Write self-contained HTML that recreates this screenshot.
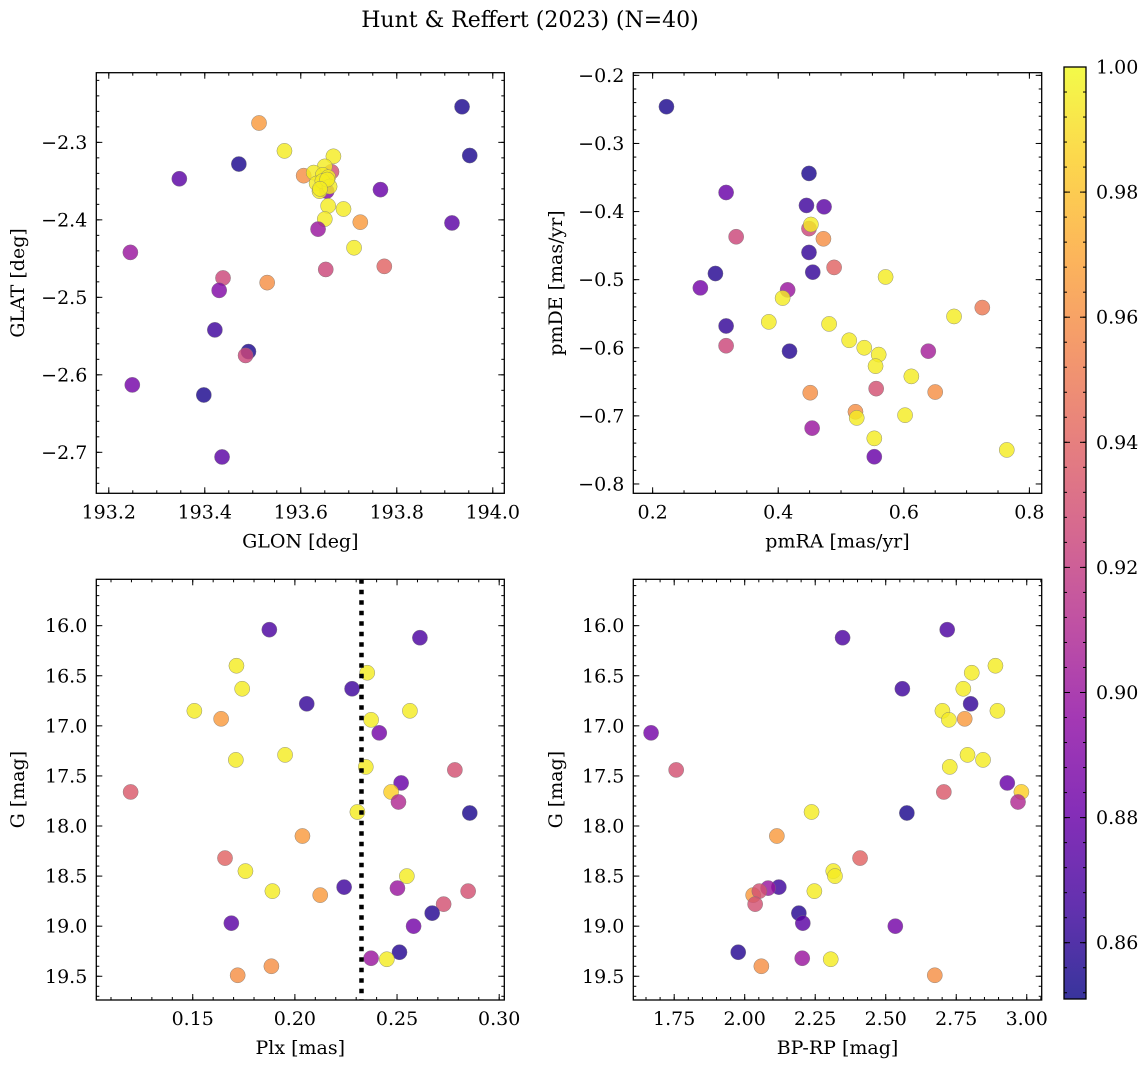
<!DOCTYPE html>
<html><head><meta charset="utf-8"><style>
html,body{margin:0;padding:0;background:#fff;}
svg{display:block;font-family:"DejaVu Serif","Liberation Serif",serif;}
</style></head><body>
<svg id="fig" width="1148" height="1067" xmlns="http://www.w3.org/2000/svg">
<text x="530" y="27" font-size="22" text-anchor="middle">Hunt &amp; Reffert (2023) (N=40)</text>
</svg>
<script>
// ---- data ----
const glon=[193.936,193.513,193.566,193.668,193.471,193.952,193.347,193.606,193.664,193.650,193.627,193.646,193.657,193.633,193.654,193.639,193.766,193.657,193.689,193.650,193.724,193.915,193.636,193.711,193.245,193.652,193.774,193.438,193.530,193.430,193.421,193.491,193.485,193.249,193.398,193.436,193.645,193.660,193.655,193.640];
const glat=[-2.254,-2.275,-2.311,-2.318,-2.328,-2.317,-2.347,-2.343,-2.338,-2.331,-2.339,-2.342,-2.345,-2.353,-2.363,-2.363,-2.361,-2.382,-2.386,-2.399,-2.403,-2.404,-2.412,-2.436,-2.442,-2.464,-2.460,-2.475,-2.481,-2.491,-2.542,-2.570,-2.575,-2.613,-2.626,-2.706,-2.350,-2.357,-2.348,-2.360];
const probSky=[0.855,0.965,0.995,0.995,0.855,0.855,0.875,0.96,0.93,0.995,0.995,0.995,0.995,0.995,0.89,0.995,0.88,0.995,0.995,0.995,0.965,0.875,0.9,0.995,0.9,0.925,0.94,0.925,0.96,0.89,0.865,0.855,0.925,0.885,0.855,0.875,0.995,0.995,0.995,0.995];
const pmra=[0.222,0.449,0.317,0.445,0.473,0.449,0.452,0.333,0.472,0.449,0.489,0.300,0.455,0.571,0.276,0.415,0.407,0.725,0.680,0.385,0.481,0.317,0.513,0.537,0.317,0.418,0.639,0.560,0.555,0.612,0.556,0.451,0.650,0.523,0.525,0.602,0.454,0.553,0.764,0.553];
const pmde=[-0.246,-0.344,-0.372,-0.391,-0.393,-0.425,-0.419,-0.437,-0.440,-0.460,-0.482,-0.491,-0.489,-0.496,-0.512,-0.515,-0.527,-0.541,-0.554,-0.562,-0.565,-0.568,-0.589,-0.600,-0.597,-0.605,-0.605,-0.610,-0.627,-0.642,-0.660,-0.666,-0.665,-0.694,-0.703,-0.699,-0.718,-0.733,-0.750,-0.760];
const probPm=[0.855,0.855,0.88,0.865,0.875,0.925,0.995,0.925,0.96,0.862,0.94,0.858,0.862,0.995,0.885,0.9,0.995,0.95,0.995,0.995,0.995,0.862,0.995,0.995,0.925,0.858,0.905,0.995,0.995,0.995,0.93,0.96,0.96,0.96,0.995,0.995,0.9,0.995,0.995,0.88];
const plx=[0.1875,0.2612,0.1714,0.2354,0.1742,0.2280,0.2058,0.1508,0.1639,0.2563,0.2373,0.2413,0.1711,0.1952,0.2347,0.2783,0.1196,0.2520,0.2471,0.2507,0.2306,0.2856,0.2037,0.1658,0.1758,0.2548,0.2241,0.2502,0.1890,0.2124,0.2848,0.2728,0.2672,0.1689,0.2581,0.2512,0.2373,0.2450,0.1885,0.1720];
const bprp=[2.718,2.347,2.889,2.805,2.775,2.559,2.801,2.701,2.780,2.896,2.724,1.668,2.845,2.790,2.727,1.757,2.706,2.931,2.981,2.969,2.237,2.575,2.114,2.409,2.314,2.320,2.121,2.083,2.247,2.030,2.052,2.037,2.192,2.206,2.534,1.977,2.204,2.305,2.059,2.674];
const gmag=[16.04,16.12,16.40,16.47,16.63,16.63,16.78,16.85,16.93,16.85,16.94,17.07,17.34,17.29,17.41,17.44,17.66,17.57,17.66,17.76,17.86,17.87,18.10,18.32,18.45,18.50,18.61,18.62,18.65,18.69,18.65,18.78,18.87,18.97,19.00,19.26,19.32,19.33,19.40,19.49];
const probPhot=[0.87,0.87,0.995,0.995,0.995,0.865,0.862,0.995,0.965,0.995,0.995,0.885,0.995,0.995,0.995,0.93,0.935,0.88,0.985,0.91,0.995,0.855,0.965,0.94,0.995,0.995,0.865,0.9,0.995,0.965,0.93,0.93,0.858,0.875,0.885,0.858,0.9,0.995,0.96,0.96];
const cbTicks=[0.86,0.88,0.90,0.92,0.94,0.96,0.98,1.00];
const plxCut=[0.2326];
const NS="http://www.w3.org/2000/svg";
const svg=document.getElementById('fig');
function mk(t,a,p){const e=document.createElementNS(NS,t);for(const k in a)e.setAttribute(k,a[k]);(p||svg).appendChild(e);return e;}
const stops=[[13,8,135],[65,4,157],[106,0,168],[143,13,164],[177,42,144],[204,71,120],[225,100,98],[242,132,75],[252,166,54],[252,206,37],[240,249,33]];
const PMIN=0.851,PMAX=1.0;
function plasma(p){let t=(p-PMIN)/(PMAX-PMIN);t=Math.max(0,Math.min(1,t))*10;const i=Math.min(9,Math.floor(t)),f=t-i;const a=stops[i],b=stops[i+1];return 'rgb('+a.map((v,k)=>Math.round(v+(b[k]-v)*f)).join(',')+')';}
function fmt(v,d){return v<0?'\u2212'+Math.abs(v).toFixed(d):v.toFixed(d);}
const TF=19;
function panel(o){
  const g=mk('g',{});
  
  
  const X=v=>o.x0+(v-o.xmin)/(o.xmax-o.xmin)*(o.x1-o.x0);
  const Y=o.inv?(v=>o.y0+(v-o.ymin)/(o.ymax-o.ymin)*(o.y1-o.y0)):(v=>o.y1-(v-o.ymin)/(o.ymax-o.ymin)*(o.y1-o.y0));
  const clip='c'+o.name;const cp=mk('clipPath',{id:clip},g);mk('rect',{x:o.x0,y:o.y0,width:o.x1-o.x0,height:o.y1-o.y0},cp);
  const pts=mk('g',{'clip-path':'url(#'+clip+')'},g);
  for(let i=0;i<o.xs.length;i++){
    const c=mk('circle',{cx:X(o.xs[i]),cy:Y(o.ys[i]),r:7.6,fill:plasma(o.ps[i]),'fill-opacity':0.82,stroke:'#777','stroke-width':0.4},pts);
    
    
  }
  if(o.vline){for(const v of o.vline){const l=mk('line',{x1:X(v),x2:X(v),y1:o.y0,y2:o.y1,stroke:'#000','stroke-width':4.5,'stroke-dasharray':'4.5 6'},g);
    
    }}
  const tk=mk('g',{stroke:'#000','stroke-width':1},g);
  const eps=1e-9;
  function rng(a,b,s){const r=[];for(let v=Math.ceil(a/s-eps)*s;v<=b+eps;v+=s)r.push(+v.toFixed(6));return r;}
  rng(o.xmin,o.xmax,o.xminor).forEach(v=>{const x=X(v);mk('line',{x1:x,x2:x,y1:o.y1,y2:o.y1-3},tk);mk('line',{x1:x,x2:x,y1:o.y0,y2:o.y0+3},tk);});
  rng(o.ymin,o.ymax,o.yminor).forEach(v=>{const y=Y(v);mk('line',{x1:o.x0,x2:o.x0+3,y1:y,y2:y},tk);mk('line',{x1:o.x1,x2:o.x1-3,y1:y,y2:y},tk);});
  rng(o.xmin,o.xmax,o.xmajor).forEach(v=>{const x=X(v);mk('line',{x1:x,x2:x,y1:o.y1,y2:o.y1-6},tk);mk('line',{x1:x,x2:x,y1:o.y0,y2:o.y0+6},tk);
    const t=mk('text',{x:x,y:o.y1+25,'font-size':TF,'text-anchor':'middle'},g);t.textContent=fmt(v,o.xd);
    });
  rng(o.ymin,o.ymax,o.ymajor).forEach(v=>{const y=Y(v);mk('line',{x1:o.x0,x2:o.x0+6,y1:y,y2:y},tk);mk('line',{x1:o.x1,x2:o.x1-6,y1:y,y2:y},tk);
    const t=mk('text',{x:o.x0-9,y:y+6.5,'font-size':TF,'text-anchor':'end'},g);t.textContent=fmt(v,o.yd);
    });
  const fr=mk('rect',{x:o.x0,y:o.y0,width:o.x1-o.x0,height:o.y1-o.y0,fill:'none',stroke:'#000','stroke-width':1.3},g);
  
  const xl=mk('text',{x:(o.x0+o.x1)/2,y:o.y1+54,'font-size':TF,'text-anchor':'middle'},g);xl.textContent=o.xlabel;
  
  const yc=(o.y0+o.y1)/2;const yl=mk('text',{x:o.ylx,y:yc,'font-size':TF,'text-anchor':'middle',transform:'rotate(-90 '+o.ylx+' '+yc+')'},g);yl.textContent=o.ylabel;
  
}
panel({name:'sky-panel',x0:96.3,x1:504.3,y0:72.7,y1:493.3,xmin:193.174,xmax:194.024,ymin:-2.7529,ymax:-2.2101,xmajor:0.2,xminor:0.05,ymajor:0.1,yminor:0.02,xd:1,yd:1,xs:glon,ys:glat,ps:probSky,xlabel:'GLON [deg]',ylabel:'GLAT [deg]',ylx:24});
panel({name:'proper-motion-panel',x0:633.3,x1:1041.7,y0:72.7,y1:493.3,xmin:0.1692,xmax:0.8196,ymin:-0.8137,ymax:-0.1961,xmajor:0.2,xminor:0.05,ymajor:0.1,yminor:0.02,xd:1,yd:1,xs:pmra,ys:pmde,ps:probPm,xlabel:'pmRA [mas/yr]',ylabel:'pmDE [mas/yr]',ylx:562});
panel({name:'parallax-panel',x0:96.3,x1:504.3,y0:579.3,y1:1000,xmin:0.1028,xmax:0.3025,ymin:15.537,ymax:19.737,inv:true,xmajor:0.05,xminor:0.01,ymajor:0.5,yminor:0.1,xd:2,yd:1,xs:plx,ys:gmag,ps:probPhot,vline:plxCut,xlabel:'Plx [mas]',ylabel:'G [mag]',ylx:24});
panel({name:'cmd-panel',x0:633.3,x1:1041.7,y0:579.3,y1:1000,xmin:1.605,xmax:3.053,ymin:15.537,ymax:19.737,inv:true,xmajor:0.25,xminor:0.05,ymajor:0.5,yminor:0.1,xd:2,yd:1,xs:bprp,ys:gmag,ps:probPhot,xlabel:'BP-RP [mag]',ylabel:'G [mag]',ylx:562});
const cb=mk('g',{});


const cx0=1064,cx1=1086,cy0=67,cy1=999;
const defs=mk('defs',{},cb);const lg=mk('linearGradient',{id:'cbg',x1:0,y1:1,x2:0,y2:0},defs);
for(let k=0;k<=10;k++){mk('stop',{offset:(k/10),'stop-color':plasma(PMIN+(PMAX-PMIN)*k/10),'stop-opacity':0.82},lg);}
mk('rect',{x:cx0,y:cy0,width:cx1-cx0,height:cy1-cy0,fill:'url(#cbg)'},cb);
const CY=v=>cy1-(v-PMIN)/(PMAX-PMIN)*(cy1-cy0);
for(let v=0.852;v<=1.0001;v+=0.004){const y=CY(v);mk('line',{x1:cx1,x2:cx1-3,y1:y,y2:y,stroke:'#000'},cb);mk('line',{x1:cx0,x2:cx0+3,y1:y,y2:y,stroke:'#000'},cb);}
cbTicks.forEach(v=>{const y=CY(v);mk('line',{x1:cx1,x2:cx1-6,y1:y,y2:y,stroke:'#000'},cb);mk('line',{x1:cx0,x2:cx0+6,y1:y,y2:y,stroke:'#000'},cb);
  const t=mk('text',{x:cx1+10,y:y+6.5,'font-size':TF},cb);t.textContent=v.toFixed(2);
  });
mk('rect',{x:cx0,y:cy0,width:cx1-cx0,height:cy1-cy0,fill:'none',stroke:'#000','stroke-width':1.3},cb);
</script>
</body></html>
